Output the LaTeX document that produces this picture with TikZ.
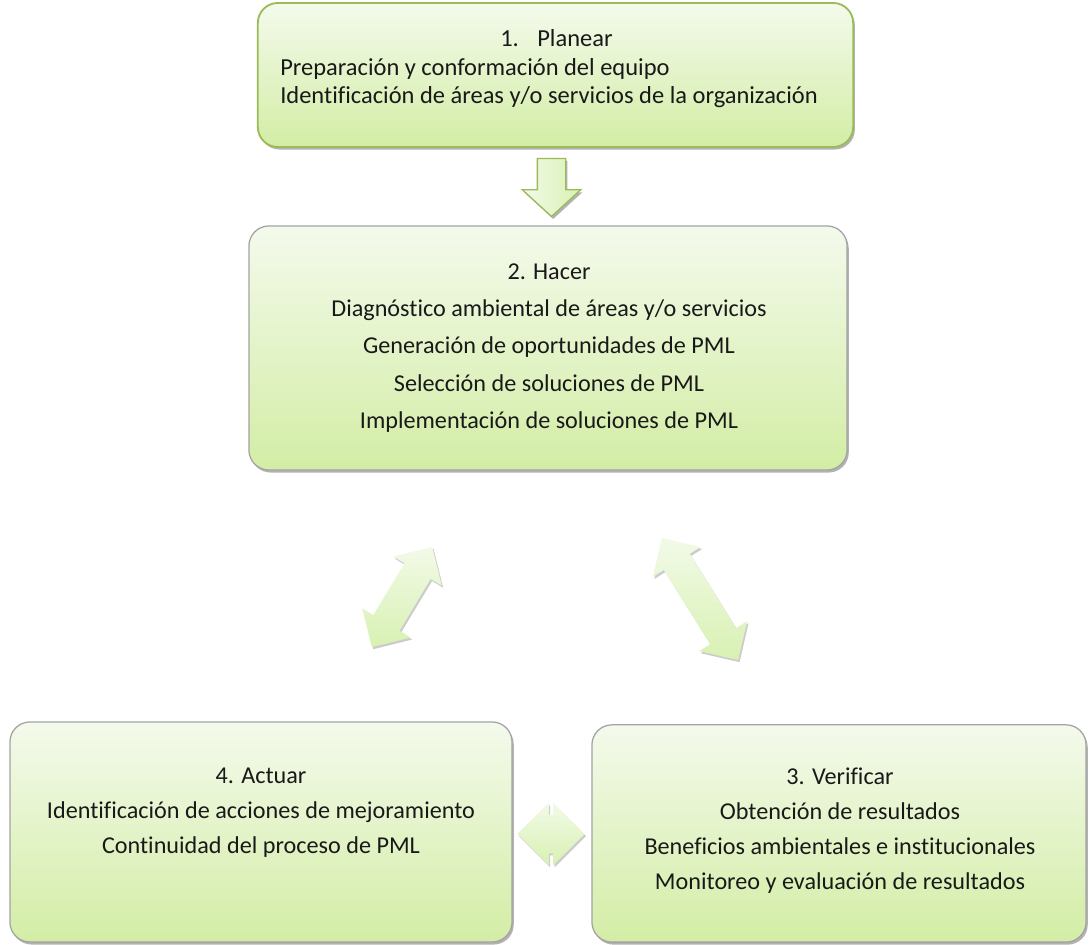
\documentclass[tikz,border=0pt]{standalone}
\usepackage{fontspec}
\setmainfont{Carlito}[Ligatures={NoCommon}]
\usepackage{tikz}
\usetikzlibrary{shapes.arrows}
\usetikzlibrary{shadows}
\definecolor{boxtop}{HTML}{F4FAEC}
\definecolor{boxbottom}{HTML}{D3EDA5}
\definecolor{arrowtop}{HTML}{F2FAE8}
\definecolor{arrowbottom}{HTML}{D8F1B2}
\definecolor{planborder}{HTML}{9BBB59}
\definecolor{boxborder}{HTML}{A3A3A3}
\tikzset{
  mybox/.style={
    draw=boxborder,
    shape=rectangle,
    line width=0.9pt,
    rounded corners=0.5cm,
    top color=boxtop,
    bottom color=boxbottom,
    drop shadow={shadow xshift=1.2pt, shadow yshift=-1.8pt, fill=black, opacity=0.3},
    inner sep=0pt,
  },
  mytext/.style={
    align=center,
    inner sep=0pt,
    text=black!90,
    font=\fontsize{17.2}{25}\selectfont,
  },
  mybigarrow/.style={
    shape=double arrow,
    draw=none,
    inner xsep=0pt,
    top color=arrowtop,
    bottom color=arrowbottom,
    double arrow tip angle=90,
    drop shadow={shadow xshift=1pt, shadow yshift=-1.5pt, fill=black, opacity=0.2},
  },
  mydownarrow/.style={
    shape=single arrow,
    draw=planborder,
    line width=0.9pt,
    inner xsep=0pt,
    left color=arrowtop,
    right color=arrowbottom,
    single arrow tip angle=95,
    drop shadow={shadow xshift=1.2pt, shadow yshift=-1.8pt, fill=black, opacity=0.3},
  },
}

\begin{document}
\begin{tikzpicture}[x=0.025cm, y=0.025cm]
    \useasboundingbox (0, 0) rectangle (1091, 945);

    % boxes
    \node [mybox, draw=planborder, line width=1.3pt, minimum width=14.88cm, minimum height=3.6cm] (PL) at (555.5, 870) {};
    \node [mybox, minimum width=14.95cm, minimum height=6.1cm] (HA) at (548, 597) {};
    \node [mybox, minimum width=12.55cm, minimum height=5.5cm] (AC) at (261, 113) {};
    \node [mybox, minimum width=12.35cm, minimum height=5.43cm] (VE) at (839, 111.5) {};

    % texts
    \node [mytext, align=left, anchor=west, font=\fontsize{17.4}{20.2}\selectfont] (PLtext) at (280, 876)
      {\hspace*{5.5cm}\makebox[0.925cm][l]{1.}Planear\\
       Preparación y conformación del equipo\\
       Identificación de áreas y/o servicios de la organización};
    \node [mytext, font=\fontsize{17.2}{26.5}\selectfont] (HAtext) at (549, 597)
      {2. Hacer\\
       Diagnóstico ambiental de áreas y/o servicios\\
       Generación de oportunidades de PML\\
       Selección de soluciones de PML\\
       Implementación de soluciones de PML};
    \node [mytext] (ACtext) at (261, 132)
      {4. Actuar\\
       Identificación de acciones de mejoramiento\\
       Continuidad del proceso de PML};
    \node [mytext] (VEtext) at (840, 114.5)
      {3. Verificar\\
       Obtención de resultados\\
       Beneficios ambientales e institucionales\\
       Monitoreo y evaluación de resultados};

    % arrows
    \node [mydownarrow, rotate=-90, minimum height=1.45cm, inner ysep=0.3375cm,
           single arrow head extend=0.375cm] (PLHA) at (551.5, 764) {};
    \node [mybigarrow, rotate=59, minimum height=2.925cm, inner ysep=0.375cm,
           double arrow head extend=0.325cm] (HAAC) at (402, 348) {};
    \node [mybigarrow, rotate=-58, minimum height=3.6cm, inner ysep=0.375cm,
           double arrow head extend=0.325cm] (HAVE) at (700, 346) {};
    \node [mybigarrow, minimum height=1.675cm, inner ysep=0.475cm,
           double arrow head extend=0.3cm] (ACVE) at (551, 111) {};

  \end{tikzpicture}
\end{document}
